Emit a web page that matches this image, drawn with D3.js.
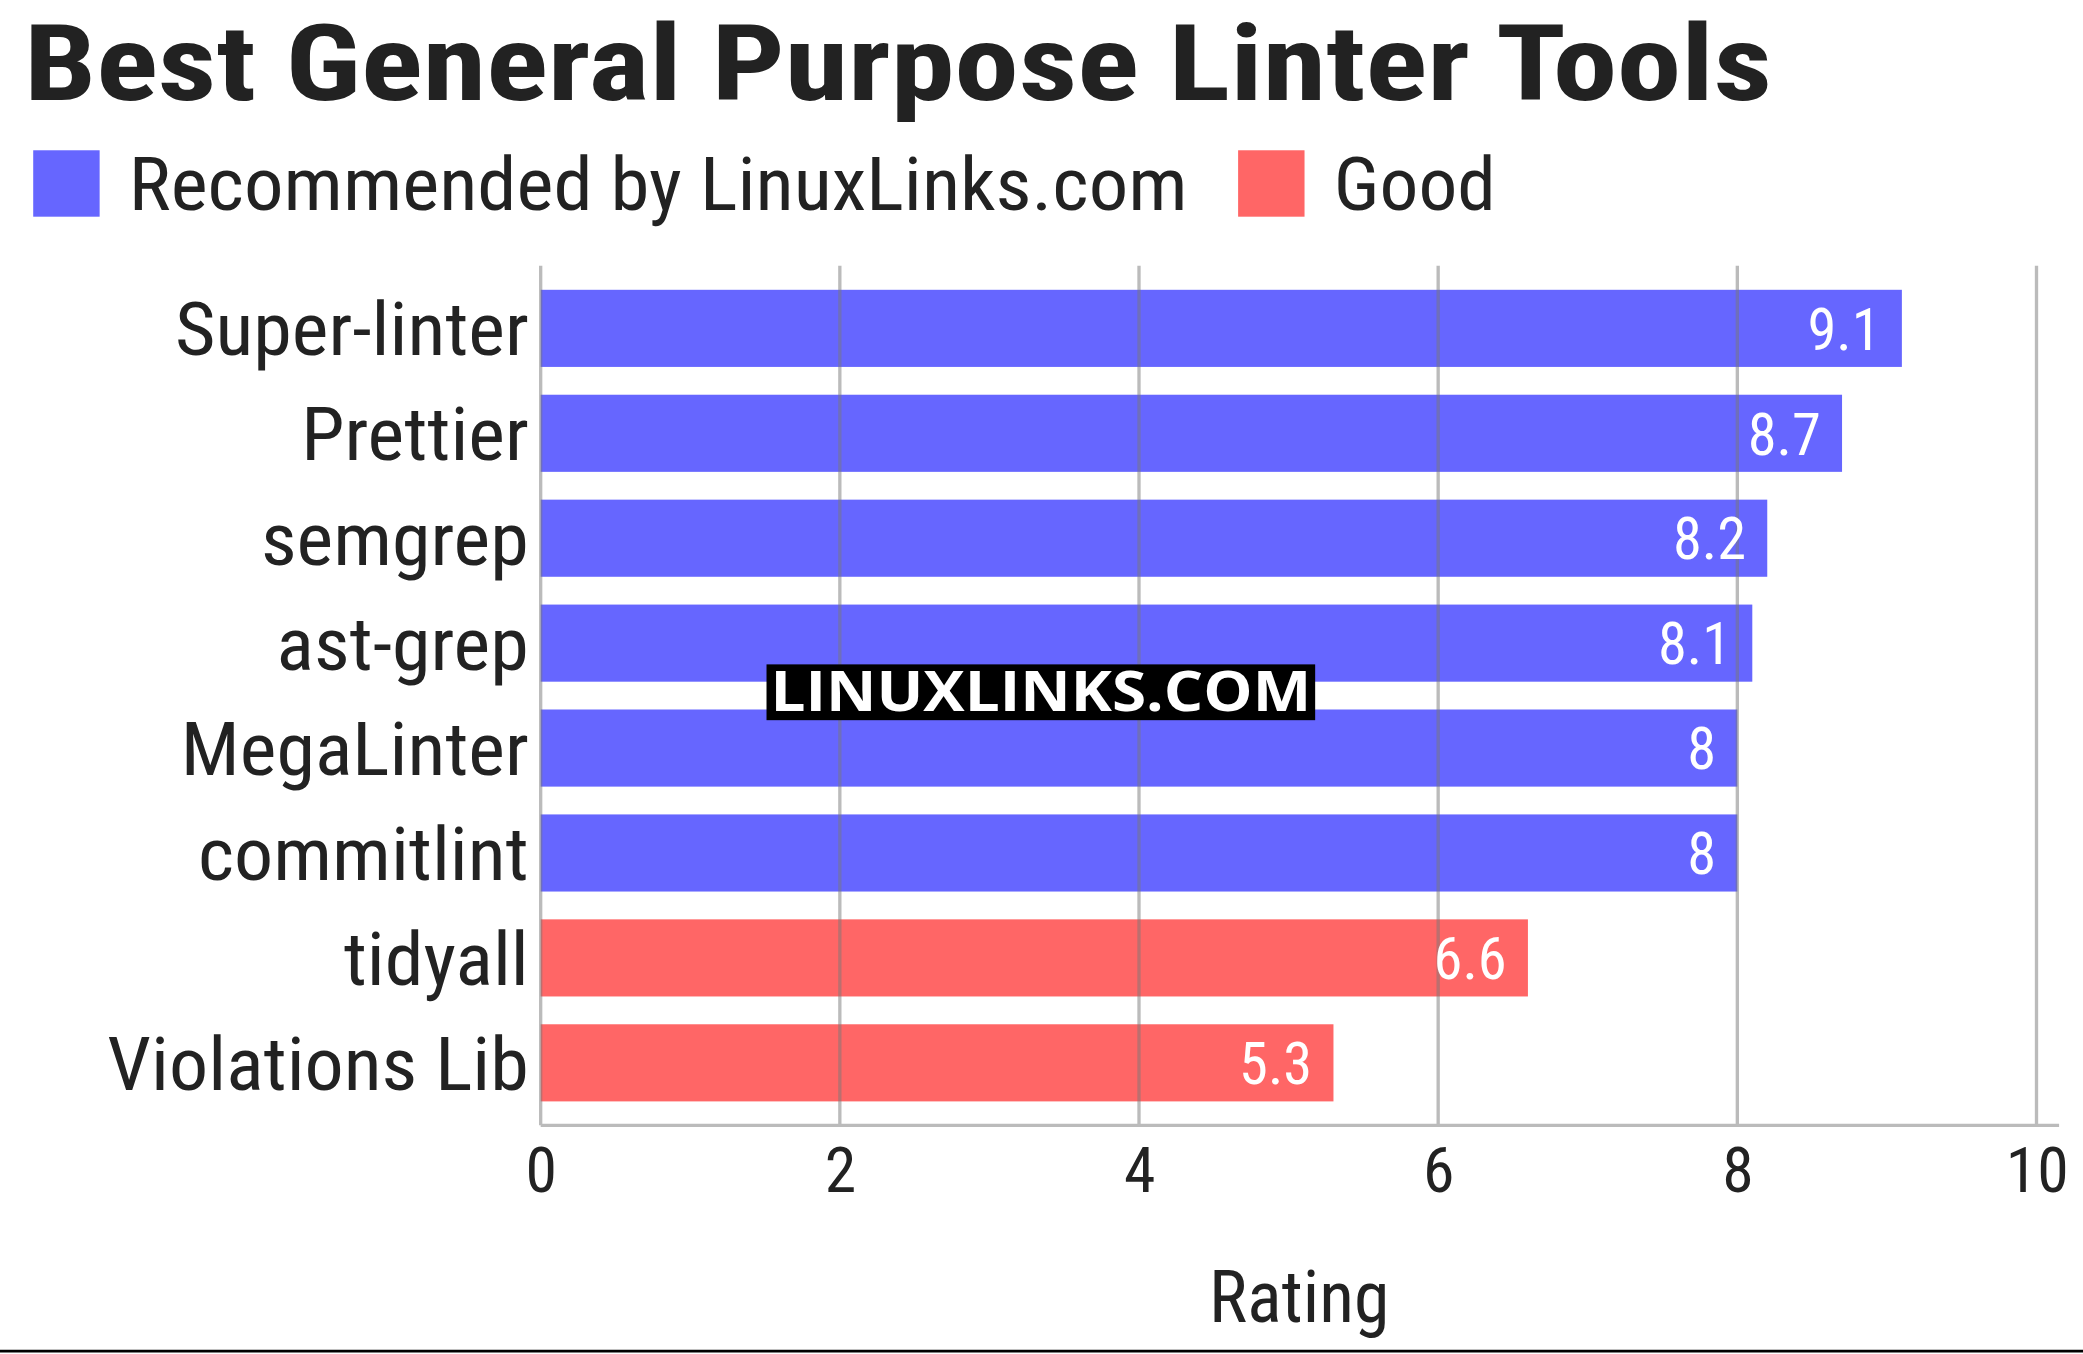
<!DOCTYPE html>
<html><head><meta charset="utf-8">
<script src="https://cdn.jsdelivr.net/npm/d3@7"></script>
<style>body{margin:0;background:#fff}</style></head>
<body><script>
const categories=["Super-linter","Prettier","semgrep","ast-grep","MegaLinter","commitlint","tidyall","Violations Lib"];
const ratings=[9.1,8.7,8.2,8.1,8,8,6.6,5.3];
const groups=["Recommended by LinuxLinks.com","Recommended by LinuxLinks.com","Recommended by LinuxLinks.com","Recommended by LinuxLinks.com","Recommended by LinuxLinks.com","Recommended by LinuxLinks.com","Good","Good"];
const legendLabels=["Recommended by LinuxLinks.com","Good"];
const ticks=[0,2,4,6,8,10];
const colors={"Recommended by LinuxLinks.com":"#6666ff","Good":"#ff6666"};
const F='"Roboto Condensed","Liberation Sans Narrow","DejaVu Sans Condensed",sans-serif';
const svg=d3.select("body").append("svg").attr("width",2083).attr("height",1354).attr("viewBox","0 0 1568 1019").style("font-family",F);
const x=d3.scaleLinear().domain([0,10]).range([407,1533]);
const y=d3.scaleBand().domain(categories).range([205,842]).paddingInner(0.265).paddingOuter(0.165);
svg.append("text").attr("x",18).attr("y",75).attr("font-size",80).attr("font-weight","bold").attr("fill","#222").attr("textLength",1316).attr("lengthAdjust","spacingAndGlyphs").text("Best General Purpose Linter Tools");
const lg=svg.append("g");
const lw=[797,122];
legendLabels.forEach((l,i)=>{
  const gx=i==0?25:932;
  lg.append("rect").attr("x",gx).attr("y",113).attr("width",50).attr("height",50).attr("fill",colors[l]);
  lg.append("text").attr("x",gx+72).attr("y",158).attr("font-size",56).attr("fill","#222").attr("textLength",lw[i]).attr("lengthAdjust","spacingAndGlyphs").text(l);
});
svg.selectAll(".bar").data(categories).enter().append("rect").attr("x",x(0)).attr("y",d=>y(d)).attr("height",y.bandwidth()).attr("width",(d,i)=>x(ratings[i])-x(0)).attr("fill",(d,i)=>colors[groups[i]]);
svg.selectAll(".grid").data(ticks).enter().append("line").attr("x1",d=>x(d)).attr("x2",d=>x(d)).attr("y1",200).attr("y2",847).attr("stroke","#777").attr("stroke-opacity",0.5).attr("stroke-width",2.5);
svg.append("line").attr("x1",407).attr("x2",1550).attr("y1",847).attr("y2",847).attr("stroke","#bbb").attr("stroke-width",2.5);
const ax=svg.append("g").attr("transform","translate(0,847)").call(d3.axisBottom(x).tickValues(ticks).tickSize(0).tickPadding(16));
ax.select(".domain").remove();
ax.selectAll("text").attr("font-size",48).attr("font-family",F).attr("fill","#222");
const ay=svg.append("g").attr("transform","translate(398,0)").call(d3.axisLeft(y).tickSize(0).tickPadding(0));
ay.select(".domain").remove();
ay.selectAll("text").attr("font-size",56).attr("font-family",F).attr("fill","#222").attr("dy","0.36em")
  .each(function(){const t=d3.select(this);const w=this.getComputedTextLength();t.attr("textLength",w*1.05).attr("lengthAdjust","spacingAndGlyphs");});
svg.selectAll(".val").data(categories).enter().append("text").attr("x",(d,i)=>x(ratings[i])-16).attr("y",d=>y(d)+y.bandwidth()/2+16).attr("text-anchor","end").attr("font-size",44).attr("fill","#fff").text((d,i)=>ratings[i]);
svg.append("text").attr("x",978).attr("y",995).attr("text-anchor","middle").attr("font-size",54).attr("fill","#222").text("Rating");
svg.append("rect").attr("x",577).attr("y",500).attr("width",413).attr("height",42).attr("fill","#000");
svg.append("text").attr("x",580).attr("y",535).attr("font-size",42).attr("font-weight","bold").attr("font-family","'Open Sans',sans-serif").attr("fill","#fff").attr("textLength",407).attr("lengthAdjust","spacingAndGlyphs").text("LINUXLINKS.COM");
svg.append("line").attr("x1",0).attr("x2",1568).attr("y1",1017).attr("y2",1017).attr("stroke","#000").attr("stroke-width",2);
</script></body></html>
